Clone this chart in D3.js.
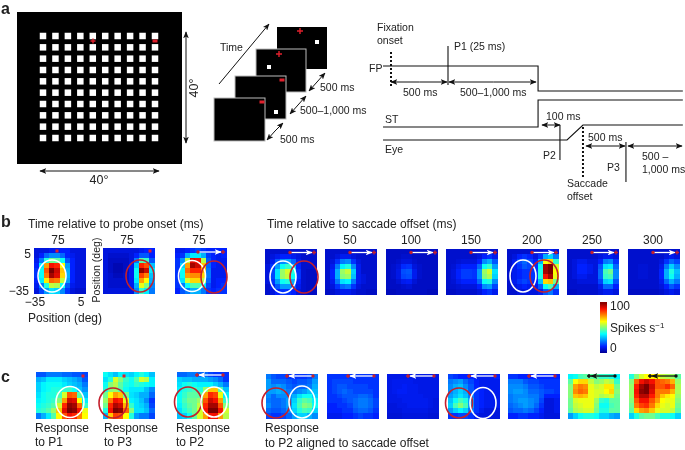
<!DOCTYPE html>
<html>
<head>
<meta charset="utf-8">
<script src="https://cdn.jsdelivr.net/npm/d3@7"></script>
<style>
  html, body { margin: 0; padding: 0; background: #fff; }
  svg { display: block; filter: blur(0.4px); }
  text { font-family: "Liberation Sans", Arial, sans-serif; font-size: 12px; fill: #222; }
  .map { filter: blur(0.45px); }
</style>
</head>
<body>
<div id="chart"></div>
<script>
// firing rate maps, spikes/s (rows top to bottom)
var probeP1 = [
  [8,8,8,10,10,12,12,8,8,8],
  [8,12,20,24,24,20,12,10,8,8],
  [10,22,40,48,46,38,18,12,8,8],
  [12,35,72,88,85,62,26,12,8,8],
  [14,38,80,100,92,68,28,12,8,8],
  [14,38,76,96,90,66,28,12,8,8],
  [12,35,64,78,76,56,26,12,8,8],
  [10,22,40,56,54,38,18,10,8,8],
  [8,16,26,34,32,24,14,8,6,6]
];
var probeP3 = [
  [8,8,8,8,8,8,8,10,12,12],
  [8,6,6,6,6,8,12,18,18,12],
  [8,5,5,5,5,8,22,45,42,18],
  [8,5,3,3,5,10,32,85,80,30],
  [8,5,3,3,5,10,38,98,92,35],
  [8,6,4,4,6,10,38,82,75,30],
  [8,6,6,6,6,10,35,72,62,28],
  [8,6,6,6,6,10,28,60,50,24],
  [8,8,8,8,8,8,24,42,35,22]
];
var probeP2 = [
  [10,10,12,14,16,14,12,12,12,12],
  [12,14,28,35,35,28,15,12,10,12],
  [14,25,55,90,88,55,18,12,10,10],
  [14,32,72,96,92,68,20,12,10,10],
  [14,38,78,85,85,70,22,10,10,10],
  [14,38,72,74,74,66,22,10,10,10],
  [14,34,58,66,66,55,20,10,12,12],
  [14,22,38,45,45,35,16,10,12,14],
  [12,18,22,28,28,22,14,12,14,14]
];
var sac0 = [
  [6,6,6,6,6,6,6,6,6,6],
  [6,8,10,12,12,10,8,6,6,6],
  [6,10,18,24,26,20,10,6,6,6],
  [8,14,26,38,42,32,12,6,6,6],
  [8,16,34,52,58,40,14,6,5,5],
  [8,16,34,52,56,38,14,6,5,5],
  [8,14,26,38,40,28,12,6,5,5],
  [6,10,18,26,26,18,10,6,5,5],
  [6,8,12,14,14,12,8,6,5,5]
];
var sac50 = [
  [6,6,6,6,6,6,6,6,6,6],
  [6,6,8,10,10,8,6,6,6,6],
  [6,8,14,22,24,14,8,6,6,6],
  [6,10,22,36,40,24,10,6,6,6],
  [6,12,28,52,56,32,10,6,6,6],
  [6,12,28,50,52,30,10,8,6,6],
  [6,10,22,34,36,22,10,8,6,6],
  [6,8,14,20,22,14,8,6,6,6],
  [5,6,8,10,10,8,6,6,5,5]
];
var sac100 = [
  [5,5,5,5,5,5,5,5,5,5],
  [5,5,5,6,6,5,5,5,5,5],
  [5,5,6,8,8,6,5,5,5,5],
  [5,6,8,13,14,8,6,5,5,5],
  [5,6,9,17,18,10,6,5,5,5],
  [5,6,9,16,17,10,6,5,5,5],
  [5,5,7,10,11,7,5,5,5,5],
  [5,5,5,6,7,5,5,5,5,5],
  [4,4,5,5,5,5,5,5,4,4]
];
var sac150 = [
  [6,6,6,6,6,6,6,6,6,6],
  [6,6,6,6,6,6,8,12,14,10],
  [6,6,7,8,8,8,12,24,28,18],
  [6,7,10,12,12,12,20,38,42,26],
  [6,8,12,15,15,14,26,52,58,34],
  [6,8,12,15,15,14,26,50,54,32],
  [6,7,10,12,12,12,20,38,40,24],
  [6,6,7,8,8,8,12,24,26,16],
  [5,5,6,6,6,6,8,12,14,10]
];
var sac200 = [
  [6,6,6,6,6,6,6,8,10,8],
  [6,8,12,14,12,8,14,28,32,22],
  [6,10,16,20,16,12,28,62,66,42],
  [6,10,14,18,16,14,38,96,100,58],
  [6,10,12,14,14,14,40,96,100,62],
  [6,10,12,14,14,14,40,88,96,60],
  [6,10,14,16,14,12,30,66,68,48],
  [6,8,10,12,10,10,18,38,44,28],
  [6,6,8,8,8,8,10,18,22,14]
];
var sac250 = [
  [6,6,6,6,6,6,6,6,6,6],
  [6,6,6,6,6,6,8,10,10,8],
  [6,8,10,10,8,8,12,22,24,14],
  [6,8,12,12,10,8,18,34,36,20],
  [6,8,12,12,10,8,20,44,48,24],
  [6,8,10,10,8,8,20,42,44,24],
  [6,6,8,8,8,8,16,32,34,18],
  [6,6,6,6,6,6,10,20,20,12],
  [5,5,6,6,6,6,8,10,10,8]
];
var sac300 = [
  [6,6,6,6,6,6,6,6,6,6],
  [6,6,6,6,6,6,6,8,10,8],
  [6,6,6,6,6,6,8,14,20,16],
  [6,6,7,7,6,6,10,22,32,24],
  [6,6,7,7,6,6,12,28,40,30],
  [6,6,7,7,6,6,12,28,38,28],
  [6,6,6,6,6,6,10,20,28,22],
  [6,6,6,6,6,6,8,12,18,14],
  [5,5,5,5,5,5,6,8,10,8]
];
var respP1 = [
  [18,18,22,22,22,20,20,18,18,16],
  [28,30,35,35,35,32,30,28,25,18],
  [32,36,38,38,38,35,32,30,28,22],
  [32,36,38,40,40,42,42,38,30,25],
  [34,38,40,40,44,58,80,78,45,30],
  [36,38,40,42,50,72,92,90,62,35],
  [38,40,42,45,58,85,98,96,78,42],
  [40,42,45,52,68,90,100,98,88,60],
  [22,28,35,45,62,80,88,85,75,62]
];
var respP3 = [
  [38,34,30,36,34,32,36,40,36,30],
  [34,40,58,50,42,38,45,58,55,36],
  [38,50,55,46,40,38,42,40,38,36],
  [40,50,52,45,38,35,35,35,30,24],
  [48,62,72,68,48,34,32,28,28,20],
  [52,76,88,85,60,36,34,30,24,14],
  [48,85,95,92,70,42,34,32,28,16],
  [40,88,100,98,78,50,34,34,30,20],
  [28,68,82,80,62,40,26,22,22,16]
];
var respP2 = [
  [20,20,22,22,20,20,16,14,14,14],
  [32,30,30,28,28,28,26,24,20,14],
  [34,38,40,38,36,36,36,32,28,22],
  [36,40,42,44,40,52,68,68,45,30],
  [38,42,46,46,46,72,85,82,60,35],
  [38,44,48,48,52,80,92,88,72,42],
  [36,42,46,48,56,85,96,96,80,50],
  [34,40,44,48,58,88,100,100,88,58],
  [30,32,38,46,58,72,88,88,72,55]
];
var alignA = [
  [22,18,16,16,14,14,14,14,16,22],
  [26,20,20,20,18,16,18,18,20,26],
  [26,24,26,24,20,18,20,20,22,28],
  [26,26,28,26,22,22,24,26,30,30],
  [24,20,24,24,24,28,34,38,38,32],
  [22,20,20,22,26,32,42,46,44,36],
  [24,20,20,22,26,34,44,50,48,38],
  [20,18,18,20,24,32,40,44,42,32],
  [16,14,14,16,20,26,32,32,28,24]
];
var alignB = [
  [14,14,14,14,14,14,14,14,14,14],
  [14,16,16,16,16,14,14,14,14,14],
  [14,16,18,18,16,16,16,16,14,14],
  [14,16,18,20,18,16,16,16,16,14],
  [14,14,16,18,18,18,20,20,18,14],
  [14,14,14,16,18,20,22,22,20,16],
  [12,12,14,14,16,20,22,22,20,16],
  [12,12,12,14,14,18,20,20,18,14],
  [10,10,10,12,12,14,16,14,14,12]
];
var alignC = [
  [9,9,9,9,9,9,9,9,9,9],
  [9,10,10,10,10,9,9,9,9,9],
  [9,10,10,11,10,10,9,9,9,9],
  [9,10,11,11,10,10,9,9,9,9],
  [9,9,10,10,10,10,10,9,9,9],
  [9,9,9,10,10,10,10,10,9,8],
  [8,8,9,9,10,10,10,10,9,8],
  [8,8,8,9,9,9,9,9,8,8],
  [7,7,7,8,8,8,8,8,7,7]
];
var alignD = [
  [16,14,12,12,12,10,10,10,10,12],
  [22,24,26,20,16,12,10,10,10,10],
  [24,28,30,24,18,12,10,10,10,10],
  [24,28,32,28,18,14,12,10,10,10],
  [26,30,34,30,22,14,12,10,10,10],
  [30,38,44,40,26,14,12,10,10,10],
  [32,44,50,44,26,14,12,10,10,10],
  [26,32,36,32,22,14,10,8,8,8],
  [14,14,16,16,14,10,8,8,8,8]
];
var alignE = [
  [14,14,12,12,12,12,12,12,12,12],
  [22,22,22,18,16,16,14,14,14,14],
  [24,24,24,22,18,18,16,14,14,14],
  [24,26,26,24,20,20,18,16,16,14],
  [22,24,24,24,22,22,18,12,12,12],
  [22,24,26,26,24,22,16,8,8,10],
  [20,22,24,26,24,20,14,8,8,10],
  [18,20,20,22,20,16,12,8,8,10],
  [12,12,14,14,12,12,10,8,8,8]
];
var alignF = [
  [36,38,44,46,46,46,42,42,40,36],
  [46,62,66,66,56,50,52,56,54,42],
  [50,72,76,74,60,56,58,64,64,48],
  [50,74,78,76,60,58,58,62,66,50],
  [50,68,70,68,60,58,54,56,58,48],
  [48,58,60,60,60,52,42,40,46,46],
  [48,56,58,60,60,50,38,38,44,46],
  [46,54,56,58,58,48,40,40,46,46],
  [26,32,38,40,40,38,32,32,28,26]
];
var alignG = [
  [40,50,58,62,64,62,56,54,52,46],
  [50,78,88,92,88,80,78,76,70,52],
  [52,86,96,100,92,80,80,84,78,54],
  [52,88,98,100,90,76,76,76,70,54],
  [52,86,94,94,86,76,68,64,62,52],
  [50,80,88,88,80,72,62,60,60,50],
  [48,76,82,84,76,66,60,58,60,48],
  [46,66,72,74,68,60,58,58,56,46],
  [32,40,46,48,48,44,40,40,38,32]
];

// column titles
var probeLabels = ["75", "75", "75"];
var sacLabels = ["0", "50", "100", "150", "200", "250", "300"];
var cbValues = [0, 100];

// jet style colour map
var jet = d3.scaleLinear()
  .domain([0, 12, 37, 62, 87, 100])
  .range(["#00009a", "#0020ff", "#00ffff", "#ffff00", "#ff1000", "#7a0000"])
  .clamp(true);

var red = "#c4202c";
var small = 10.5;
var svg = d3.select("#chart").append("svg")
  .attr("width", 685)
  .attr("height", 450);

// arrow heads, one per colour
var defs = svg.append("defs");
["#111", "#fff"].forEach(function(c, i) {
  defs.append("marker")
    .attr("id", "head" + i)
    .attr("viewBox", "0 0 10 8")
    .attr("refX", 9).attr("refY", 4)
    .attr("markerUnits", "userSpaceOnUse")
    .attr("markerWidth", 7).attr("markerHeight", 5.6)
    .attr("orient", "auto-start-reverse")
    .append("path").attr("d", "M0,0L10,4L0,8L2.5,4Z").attr("fill", c);
});

function label(txt, x, y, opt) {
  opt = opt || {};
  return svg.append("text")
    .attr("x", x).attr("y", y)
    .attr("text-anchor", opt.anchor || "start")
    .attr("transform", opt.rotate ? "rotate(-90," + x + "," + y + ")" : null)
    .style("font-size", opt.size ? opt.size + "px" : null)
    .style("font-weight", opt.bold ? "bold" : null)
    .style("fill", opt.fill || null)
    .text(txt);
}

function arrow(x1, y1, x2, y2, both, sw) {
  svg.append("line")
    .attr("x1", x1).attr("y1", y1).attr("x2", x2).attr("y2", y2)
    .attr("stroke", "#111").attr("stroke-width", sw || 1)
    .attr("marker-end", "url(#head0)")
    .attr("marker-start", both ? "url(#head0)" : null);
}

function plus(x, y, c, s) {
  svg.append("path")
    .attr("d", "M" + (x - s) + "," + y + "H" + (x + s) + "M" + x + "," + (y - s) + "V" + (y + s))
    .attr("stroke", c).attr("stroke-width", 1.4).attr("fill", "none");
}

function dash(x, y, w, h) {
  svg.append("rect").attr("x", x - w / 2).attr("y", y - h / 2)
    .attr("width", w).attr("height", h).attr("fill", "#e0202c");
}

function heat(m, x0, y0, w, h) {
  var x = d3.scaleBand().domain(d3.range(10)).range([x0, x0 + w]);
  var y = d3.scaleBand().domain(d3.range(9)).range([y0, y0 + h]);
  var g = svg.append("g").attr("class", "map").attr("shape-rendering", "crispEdges");
  m.forEach(function(row, r) {
    g.selectAll(null).data(row).enter().append("rect")
      .attr("x", function(d, c) { return x(c); })
      .attr("y", y(r))
      .attr("width", x.bandwidth() + 0.5)
      .attr("height", y.bandwidth() + 0.5)
      .attr("fill", function(d) { return jet(d); });
  });
}

function ring(cx, cy, rx, ry, c) {
  svg.append("ellipse")
    .attr("cx", cx).attr("cy", cy).attr("rx", rx).attr("ry", ry)
    .attr("fill", "none").attr("stroke", c).attr("stroke-width", 1.6);
}

// fixation jump overlay on the maps, from fixation dot to saccade target
function jump(x0, y, from, to, c) {
  var dir = to > from ? 1 : -1;
  svg.append("line")
    .attr("x1", x0 + from).attr("y1", y).attr("x2", x0 + to - dir).attr("y2", y)
    .attr("stroke", c).attr("stroke-width", 1.3)
    .attr("marker-end", c == "#fff" ? "url(#head1)" : "url(#head0)");
  svg.append("circle").attr("cx", x0 + from).attr("cy", y).attr("r", 1.7).attr("fill", c == "#fff" ? red : "#111");
  plus(x0 + to + dir, y, c == "#fff" ? red : "#111", 2);
}

/* PANEL A */
label("a", 1, 14, {size: 16, bold: true});

svg.append("rect").attr("x", 17).attr("y", 12).attr("width", 165).attr("height", 152).attr("fill", "#000");

var gridX = d3.scalePoint().domain(d3.range(10)).range([43, 155]);
var gridY = d3.scalePoint().domain(d3.range(10)).range([36, 138]);
d3.range(10).forEach(function(r) {
  svg.selectAll(null).data(d3.range(10)).enter().append("rect")
    .attr("x", function(c) { return gridX(c) - 3.25; })
    .attr("y", gridY(r) - 3.25)
    .attr("width", 6.5).attr("height", 6.5)
    .attr("fill", "#fff");
});
plus(93, 41, "#e0202c", 2.5);
dash(155, 41, 5, 3);

arrow(186, 88, 186, 143, false);
arrow(186, 88, 186, 32, false);
label("40°", 198, 88, {anchor: "middle", rotate: true, size: 12.5});
arrow(99, 171, 159, 171, false);
arrow(99, 171, 40, 171, false);
label("40°", 99, 184, {anchor: "middle", size: 12.5});

// stacked screens, back to front
[[277, 27, 50, 42], [256, 49, 50, 43], [235, 76, 51, 43], [214, 98, 51, 43]].forEach(function(f, i) {
  svg.append("rect")
    .attr("x", f[0]).attr("y", f[1]).attr("width", f[2]).attr("height", f[3])
    .attr("fill", "#000")
    .attr("stroke", i == 0 ? "none" : "#bbb").attr("stroke-width", 1);
});
plus(300, 31, "#e0202c", 3);
svg.append("rect").attr("x", 315).attr("y", 40).attr("width", 4).attr("height", 4).attr("fill", "#fff");
plus(279, 54, "#e0202c", 3);
svg.append("rect").attr("x", 267).attr("y", 65).attr("width", 4).attr("height", 4).attr("fill", "#fff");
dash(282, 80, 5, 3);
svg.append("rect").attr("x", 274).attr("y", 110).attr("width", 4).attr("height", 4).attr("fill", "#fff");
dash(262, 102, 5, 3);

arrow(219, 84, 269, 24, false);
label("Time", 220, 51, {size: small});
arrow(317, 82, 325, 73, false); arrow(317, 82, 309, 91, false);
arrow(298, 105, 306, 96, false); arrow(298, 105, 290, 114, false);
arrow(275, 131, 283, 123, false); arrow(275, 131, 267, 140, false);
label("500 ms", 320, 91, {size: small});
label("500–1,000 ms", 300, 114, {size: small});
label("500 ms", 280, 143, {size: small});

/* timing diagram, schematic ms from fixation onset */
var fpOff = 1290, p2on = 1482, sacOn = 1544, sacOff = 1684, p3on = 2061;
var tMin = -70, tMax = 2560;
var t = d3.scaleLinear().domain([0, 500]).range([391, 448]);
var trace = d3.line().x(function(d) { return t(d[0]); }).y(function(d) { return d[1]; });

var traceFP = [[tMin, 66], [fpOff, 66], [fpOff, 91], [tMax, 91]];
var traceST = [[tMin, 127], [fpOff, 127], [fpOff, 100], [tMax, 100]];
var traceEye = [[tMin, 140], [sacOn, 140], [sacOff, 125], [tMax, 125]];
[traceFP, traceST, traceEye].forEach(function(d) {
  svg.append("path").attr("d", trace(d)).attr("fill", "none").attr("stroke", "#111").attr("stroke-width", 1.1);
});

function tick(time, y1, y2, dotted) {
  svg.append("line")
    .attr("x1", t(time)).attr("x2", t(time)).attr("y1", y1).attr("y2", y2)
    .attr("stroke", "#111")
    .attr("stroke-width", dotted ? 2 : 1.1)
    .attr("stroke-dasharray", dotted ? "2,2" : null);
}
tick(0, 52, 87, true);
tick(500, 46, 85, false);
tick(p2on, 125, 160, false);
tick(sacOff, 127, 178, true);
tick(p3on, 142, 182, false);

arrow(t(250), 82, t(500) - 1, 82, false); arrow(t(250), 82, t(0), 82, false);
arrow(t(900), 82, t(500) + 1, 82, false); arrow(t(900), 82, t(1272), 82, false);
arrow(551, 125, 542, 125, false); arrow(551, 125, 560, 125, false);
arrow(605, 146, 586, 146, false); arrow(605, 146, 625, 146, false);
arrow(655, 146, 628, 146, false); arrow(655, 146, 682, 146, false);

label("Fixation", 377, 31, {size: small});
label("onset", 377, 44, {size: small});
label("P1 (25 ms)", 454, 50, {size: small});
label("FP", 369, 72, {size: small});
label("500 ms", 403, 96, {size: small});
label("500–1,000 ms", 460, 96, {size: small});
label("ST", 385, 123, {size: small});
label("100 ms", 546, 120, {size: small});
label("Eye", 385, 153, {size: small});
label("500 ms", 588, 141, {size: small});
label("P2", 543, 159, {size: small});
label("P3", 607, 171, {size: small});
label("500 –", 642, 160, {size: small});
label("1,000 ms", 642, 173, {size: small});
label("Saccade", 567, 187, {size: small});
label("offset", 567, 200, {size: small});

/* PANEL B */
label("b", 1, 227, {size: 16, bold: true});
label("Time relative to probe onset (ms)", 28, 228);
label("Time relative to saccade offset (ms)", 267, 228);

var probeMaps = [probeP1, probeP3, probeP2];
var probeX = [34, 103, 175];
probeMaps.forEach(function(m, i) {
  heat(m, probeX[i], 248, 51, 45);
  label(probeLabels[i], probeX[i] + 24, 244, {anchor: "middle"});
});
dash(57, 251, 3, 3);
dash(150, 251, 3, 3);
jump(175, 252, 23, 47, "#fff");
ring(52, 276, 14, 16, "#fff");
ring(140, 276, 14, 16, red);
ring(192, 276, 13.5, 15.5, "#fff");
ring(214, 277, 13, 16, red);

label("5", 31, 258, {anchor: "end"});
label("−35", 29, 295, {anchor: "end"});
label("−35", 35, 306, {anchor: "middle"});
label("5", 81, 306, {anchor: "middle"});
label("Position (deg)", 28, 322);
label("Position (deg)", 100, 270, {anchor: "middle", rotate: true, size: small});

var sacMaps = [sac0, sac50, sac100, sac150, sac200, sac250, sac300];
var sacX = [265, 325, 386, 446, 507, 567, 628];
sacMaps.forEach(function(m, i) {
  heat(m, sacX[i], 249, 51, 45);
  label(sacLabels[i], sacX[i] + 25, 244, {anchor: "middle"});
  jump(sacX[i], 252.5, 25, 48, "#fff");
});
ring(283, 277, 13, 16, "#fff");
ring(304, 277, 14, 16, red);
ring(523, 276, 13, 16, "#fff");
ring(544, 276, 14, 16, red);

// colour bar
var cb = d3.scaleLinear().domain(cbValues).range([352, 302]);
svg.append("g").attr("shape-rendering", "crispEdges")
  .selectAll("rect").data(d3.range(0, 100, 2)).enter().append("rect")
  .attr("x", 600).attr("width", 7)
  .attr("y", function(d) { return cb(d + 2); })
  .attr("height", function(d) { return cb(d) - cb(d + 2) + 0.5; })
  .attr("fill", function(d) { return jet(d); });
label("100", 610, 310);
var spikes = label("Spikes s", 610, 332);
spikes.append("tspan").attr("dy", -4).style("font-size", "8px").text("−1");
label("0", 610, 352);

/* PANEL C */
label("c", 1, 382, {size: 16, bold: true});

var respMaps = [respP1, respP3, respP2];
var respX = [36, 103, 177];
respMaps.forEach(function(m, i) {
  heat(m, respX[i], 372, 51, 46);
});
dash(83, 376, 3, 3);
dash(124, 376, 3, 3);
jump(177, 375, 46, 21, "#fff");
ring(70, 402, 14, 15.5, "#fff");
ring(113, 403, 14, 15, red);
ring(188, 402, 13.5, 15, red);
ring(214, 402, 13, 15, "#fff");
label("Response", 35, 432);
label("to P1", 35, 446);
label("Response", 104, 432);
label("to P3", 104, 446);
label("Response", 176, 432);
label("to P2", 176, 446);

var alignMaps = [alignA, alignB, alignC, alignD, alignE, alignF, alignG];
var alignX = [266, 327, 387, 448, 508, 568, 629];
alignMaps.forEach(function(m, i) {
  heat(m, alignX[i], 374, 51, 44);
  jump(alignX[i], 376, 47, 22, i < 5 ? "#fff" : "#111");
});
ring(276, 403, 14, 15, red);
ring(302, 402, 13, 16, "#fff");
ring(459, 403, 13.5, 15, red);
ring(483, 403, 13, 15.5, "#fff");
label("Response", 265, 432);
label("to P2 aligned to saccade offset", 265, 447);
</script>
</body>
</html>
